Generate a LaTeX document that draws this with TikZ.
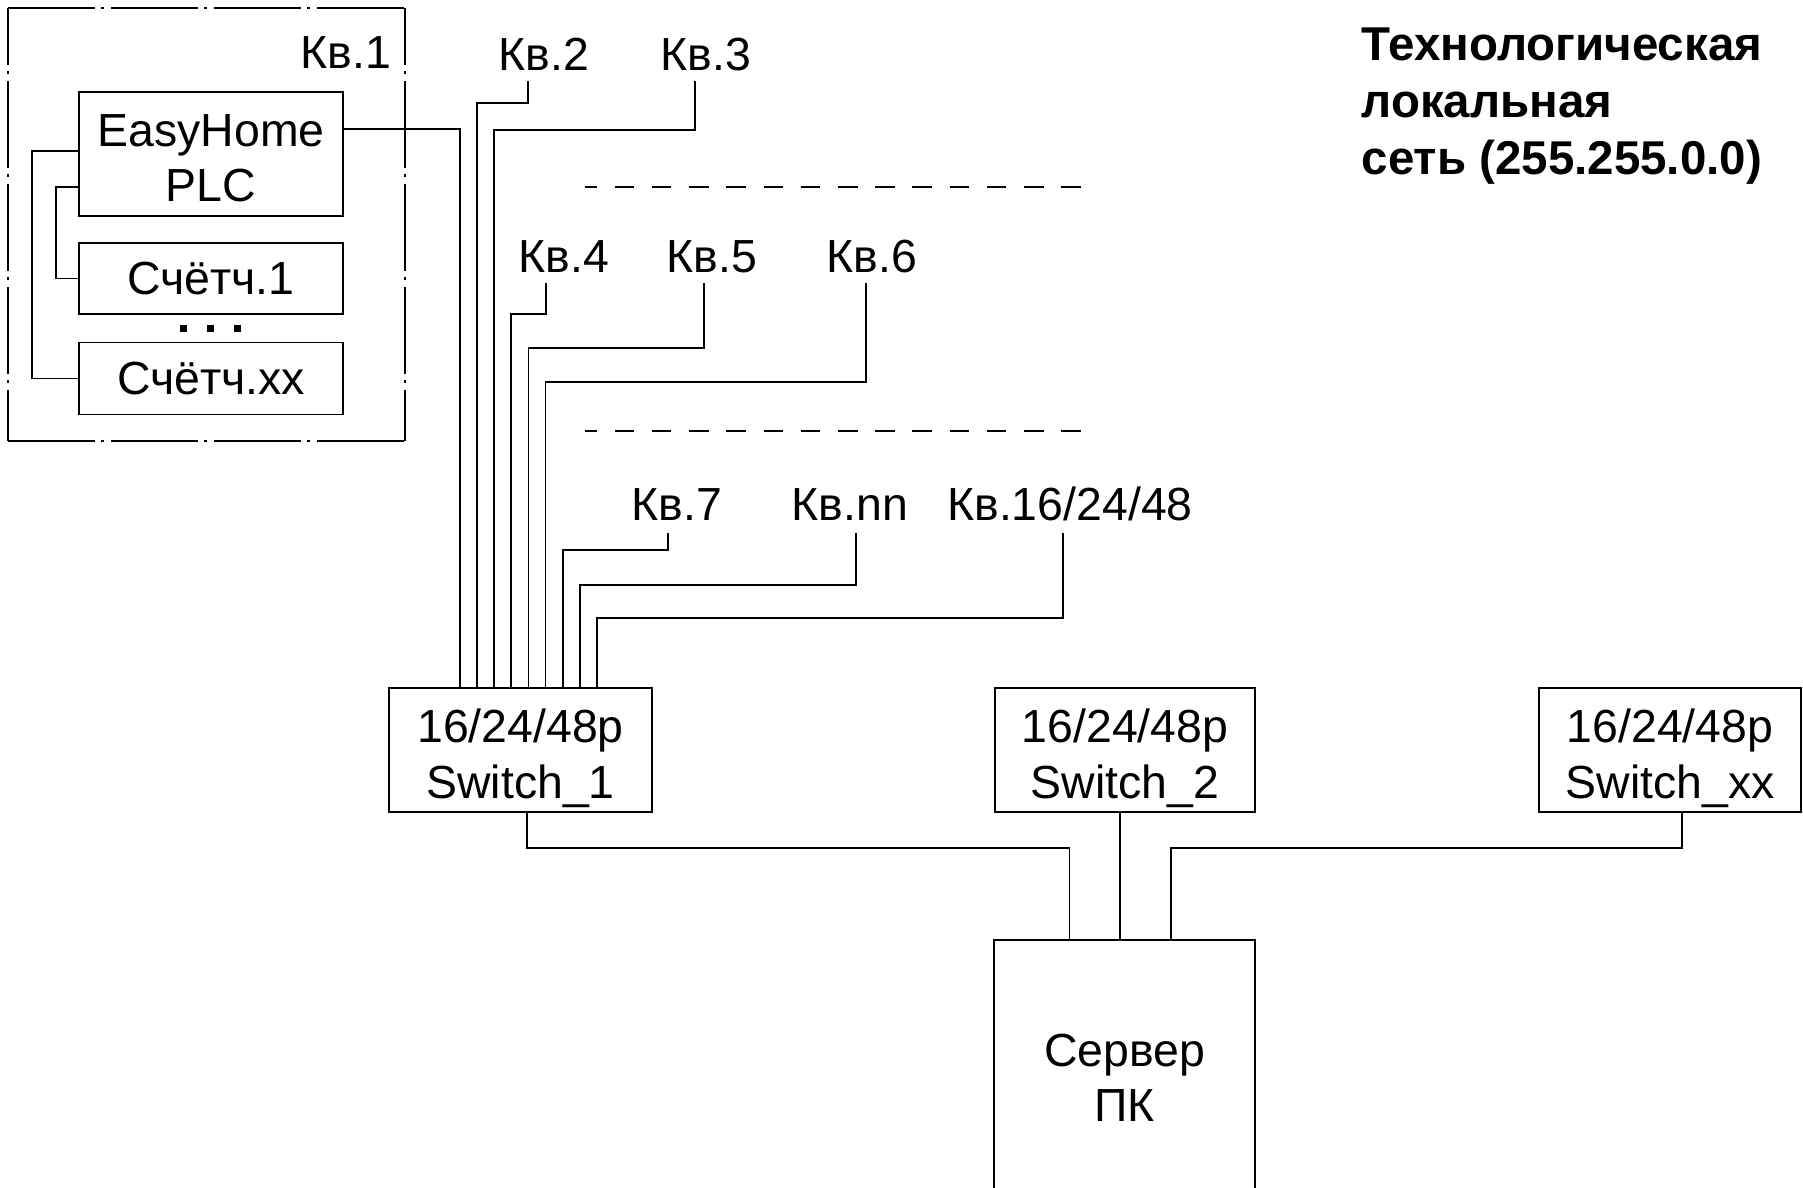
\documentclass[tikz,border=0pt]{standalone}
\usepackage{fontspec}
\setmainfont{Liberation Sans}
\usetikzlibrary{calc}
\begin{document}
\begin{tikzpicture}[x=0.01cm,y=-0.01cm,
  every node/.style={font=\fontsize{13.2}{15.7}\selectfont},
  box/.style={draw, line width=0.5pt, inner sep=0pt, align=center},
  lbl/.style={inner sep=0pt, anchor=base},
  wire/.style={line width=0.5pt},
  sepline/.style={line width=0.55pt, dash pattern=on 0.196cm off 0.176cm, dash phase=0.076cm},
  ddline/.style={line width=0.5pt, dash pattern=on 0.87cm off 0.06cm on 0.03cm off 0.07cm}
]
\useasboundingbox (0,0) rectangle (1803,1187);

% apartment 1 container
\node[inner sep=0pt, minimum width=3.95cm, minimum height=4.31cm] (kv1) at (206.5,224.5) {};
\draw[ddline] (kv1.north west) -- (kv1.north east);
\draw[ddline] (kv1.south west) -- (kv1.south east);
\draw[ddline, dash phase=0.30cm] (kv1.north west) -- (kv1.south west);
\draw[ddline, dash phase=0.30cm] (kv1.north east) -- (kv1.south east);
\node[lbl] (k1) at (346,68) {Кв.1};

\node[box, minimum width=2.64cm, minimum height=1.24cm] (eh) at (211,154) {\rule{0pt}{0.40cm}EasyHome\\PLC};
\node[box, minimum width=2.64cm, minimum height=0.71cm] (c1) at (211,278.5) {Счётч.1};
\node[box, minimum width=2.64cm, minimum height=0.72cm] (cx) at (211,378.5) {Счётч.xx};
\fill (180,325) rectangle ++(7,7);
\fill (207,325) rectangle ++(7,7);
\fill (234,325) rectangle ++(7,7);
\draw[wire] ($(eh.north west)+(0,60)$) -- ++(-46,0) |- (cx.west);
\draw[wire] ($(eh.north west)+(0,96)$) -- ++(-22,0) |- (c1.west);

% apartment labels
\node[lbl] (k2) at (544,70) {Кв.2};
\node[lbl] (k3) at (706,70) {Кв.3};
\node[lbl] (k4) at (564,272) {Кв.4};
\node[lbl] (k5) at (712,272) {Кв.5};
\node[lbl] (k6) at (872,272) {Кв.6};
\node[lbl] (k7) at (677,520) {Кв.7};
\node[lbl] (knn) at (850,520) {Кв.nn};
\node[lbl] (k16) at (1070,520) {Кв.16/24/48};

\draw[sepline] (585,187) -- (1081,187);
\draw[sepline] (585,431) -- (1081,431);

% switches and server
\node[box, minimum width=2.63cm, minimum height=1.24cm] (sw1) at (520.5,750) {\rule{0pt}{0.50cm}16/24/48p\\Switch\_1};
\node[box, minimum width=2.60cm, minimum height=1.24cm] (sw2) at (1125,750) {\rule{0pt}{0.50cm}16/24/48p\\Switch\_2};
\node[box, minimum width=2.62cm, minimum height=1.24cm] (swx) at (1670,750) {\rule{0pt}{0.50cm}16/24/48p\\Switch\_xx};
\node[box, minimum width=2.61cm, minimum height=2.76cm] (srv) at (1124.5,1078) {Сервер\\ПК};

\foreach \i in {1,...,9} {
  \coordinate (p\i) at ($(sw1.north west)+({72+17.1*(\i-1)},0)$);
}

\draw[wire] ($(eh.north east)+(0,38)$) -| (p1);
\draw[wire] ($(k2.base)+(-16,11)$) |- (p2 |- 0,103) -- (p2);
\draw[wire] ($(k3.base)+(-11,11)$) |- (p3 |- 0,130) -- (p3);
\draw[wire] ($(k4.base)+(-18,11)$) |- (p4 |- 0,314) -- (p4);
\draw[wire] ($(k5.base)+(-8,11)$) |- (p5 |- 0,348) -- (p5);
\draw[wire] ($(k6.base)+(-6,11)$) |- (p6 |- 0,382) -- (p6);
\draw[wire] ($(k7.base)+(-9,13)$) |- (p7 |- 0,550) -- (p7);
\draw[wire] ($(knn.base)+(6,13)$) |- (p8 |- 0,585) -- (p8);
\draw[wire] ($(k16.base)+(-7,13)$) |- (p9 |- 0,618) -- (p9);

\coordinate (s1) at ($(srv.north)+(-55,0)$);
\coordinate (s2) at ($(srv.north)+(-4.5,0)$);
\coordinate (s3) at ($(srv.north)+(46.5,0)$);
\draw[wire] ($(sw1.south)+(6.5,0)$) |- (s1 |- 0,848) -- (s1);
\draw[wire] (sw2.south -| s2) -- (s2);
\draw[wire] ($(swx.south)+(12,0)$) |- (s3 |- 0,848) -- (s3);

% title
\node[anchor=north west, inner sep=0pt, align=left,
      font=\fontsize{13.5}{16.2}\bfseries\selectfont] (title) at (1361,27)
  {Технологическая\\локальная\\сеть (255.255.0.0)};
\end{tikzpicture}
\end{document}
